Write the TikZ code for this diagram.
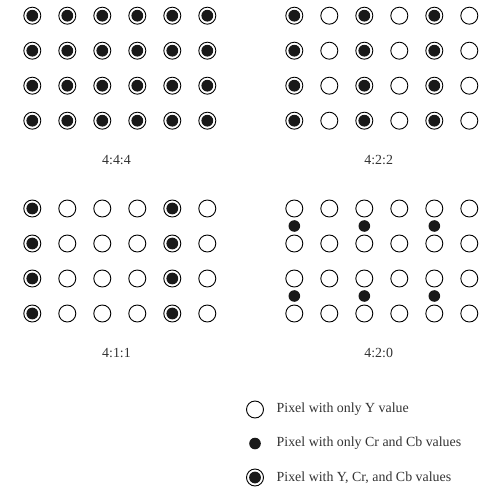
\documentclass[tikz,border=0pt]{standalone}
\usepackage{fontspec}
\setmainfont{Liberation Serif}
\usetikzlibrary{positioning}
\tikzset{
    ypix/.style={draw, circle, line width=0.9pt, minimum size=17pt, inner sep=0pt},
    cpix/.style={circle, fill=black!90, minimum size=11.6pt, inner sep=0pt},
    yccpix/.style={ypix, path picture={\fill[black!90] (path picture bounding box.center) circle (5.9pt);}},
    ratiolabel/.style={font=\fontsize{13.9}{16}\selectfont, text=black!80},
    legendtext/.style={ratiolabel, anchor=west, inner sep=0pt}
}

\begin{document}
\begin{tikzpicture}[x=1pt, y=-1pt]
\useasboundingbox (0,0) rectangle (479,489);
% 4:4:4
\foreach \i in {0,...,5}
  \foreach \j in {0,...,3}
    \node[yccpix] (fff-\i-\j) at (32.3+35*\i, 15.7+35*\j) {};
\node[ratiolabel] (lab-fff) at (116.5,160) {4:4:4};
% 4:2:2
\foreach \j in {0,...,3} {
  \foreach \i in {0,2,4}
    \node[yccpix] (ftt-\i-\j) at (294.3+35*\i, 15.7+35*\j) {};
  \foreach \i in {1,3,5}
    \node[ypix] (ftt-\i-\j) at (294.3+35*\i, 15.7+35*\j) {};
}
\node[ratiolabel] (lab-ftt) at (378.7,160) {4:2:2};
% 4:1:1
\foreach \j in {0,...,3} {
  \foreach \i in {0,4}
    \node[yccpix] (foo-\i-\j) at (32.3+35*\i, 208.5+35*\j) {};
  \foreach \i in {1,2,3,5}
    \node[ypix] (foo-\i-\j) at (32.3+35*\i, 208.5+35*\j) {};
}
\node[ratiolabel] (lab-foo) at (116.5,353.5) {4:1:1};
% 4:2:0
\foreach \i in {0,...,5}
  \foreach \j in {0,...,3}
    \node[ypix] (ftz-\i-\j) at (294.3+35*\i, 208.5+35*\j) {};
\foreach \i in {0,2,4} {
  \node[cpix] (ftz-c-\i-a) at (294.3+35*\i, 226) {};
  \node[cpix] (ftz-c-\i-b) at (294.3+35*\i, 296) {};
}
\node[ratiolabel] (lab-ftz) at (378.7,353) {4:2:0};
% legend
\node[ypix] (key-y) at (255,409.5) {};
\node[cpix] (key-c) at (255,443.5) {};
\node[yccpix] (key-ycc) at (255,477.5) {};
\node[legendtext] (txt-y) at (276.5,409.5) {Pixel with only Y value};
\node[legendtext] (txt-c) at (276.5,443.5) {Pixel with only Cr and Cb values};
\node[legendtext] (txt-ycc) at (276.5,477.5) {Pixel with Y, Cr, and Cb values};
\end{tikzpicture}
\end{document}
